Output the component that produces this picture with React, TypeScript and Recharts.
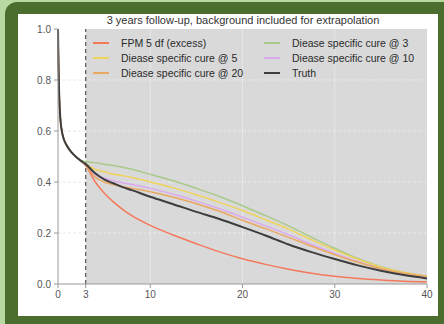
import React from "react";
import {
  LineChart,
  Line,
  XAxis,
  YAxis,
  ReferenceArea,
  ReferenceLine,
} from "recharts";

// years since diagnosis
const TIMES = [
  0, 0.05, 0.1, 0.25, 0.5, 1, 1.5, 2, 2.5, 3, 4, 5, 6, 7, 8, 10, 12.5, 15,
  17.5, 20, 22.5, 25, 27.5, 30, 32.5, 35, 37.5, 40,
];

// observed part (first 3 years) is shared by every curve
const EARLY = [1.0, 0.87, 0.78, 0.65, 0.585, 0.54, 0.515, 0.497, 0.483];

const FPM = [
  0.465, 0.402, 0.357, 0.322, 0.293, 0.268, 0.23, 0.192, 0.158, 0.126, 0.099,
  0.077, 0.058, 0.042, 0.03, 0.022, 0.016, 0.011, 0.008,
];
const CURE3 = [
  0.48, 0.476, 0.47, 0.465, 0.458, 0.45, 0.43, 0.405, 0.375, 0.343, 0.307,
  0.268, 0.228, 0.183, 0.14, 0.1, 0.068, 0.045, 0.03,
];
const CURE5 = [
  0.47, 0.45, 0.44, 0.43, 0.425, 0.418, 0.4, 0.377, 0.35, 0.32, 0.288, 0.252,
  0.215, 0.173, 0.133, 0.097, 0.066, 0.045, 0.03,
];
const CURE10 = [
  0.465, 0.43, 0.415, 0.405, 0.397, 0.39, 0.375, 0.352, 0.325, 0.295, 0.262,
  0.228, 0.193, 0.155, 0.12, 0.088, 0.06, 0.04, 0.026,
];
const CURE20 = [
  0.465, 0.42, 0.4, 0.39, 0.382, 0.375, 0.362, 0.34, 0.315, 0.285, 0.25, 0.217,
  0.183, 0.148, 0.115, 0.085, 0.06, 0.042, 0.03,
];
const TRUTH = [
  0.47, 0.435, 0.41, 0.395, 0.38, 0.368, 0.342, 0.313, 0.283, 0.255, 0.223,
  0.19, 0.155, 0.125, 0.098, 0.073, 0.052, 0.035, 0.022,
];

const X_TICKS = [0, 3, 10, 20, 30, 40];
const Y_TICKS = [0, 0.2, 0.4, 0.6, 0.8, 1.0];

const SERIES = [
  { key: "fpm", name: "FPM 5 df (excess)", color: "#f4795b", values: FPM, width: 1.5 },
  { key: "c3", name: "Diease specific cure @ 3", color: "#a9c98a", values: CURE3, width: 1.5 },
  { key: "c5", name: "Diease specific cure @ 5", color: "#efd35a", values: CURE5, width: 1.5 },
  { key: "c10", name: "Diease specific cure @ 10", color: "#dba9ee", values: CURE10, width: 1.5 },
  { key: "c20", name: "Diease specific cure @ 20", color: "#e9a860", values: CURE20, width: 1.5 },
  { key: "truth", name: "Truth", color: "#3d3d3d", values: TRUTH, width: 2 },
];

const data = TIMES.map((t, i) => {
  const row: Record<string, number> = { t };
  SERIES.forEach((s) => {
    row[s.key] = i < EARLY.length ? EARLY[i] : s.values[i - EARLY.length];
  });
  return row;
});

const font = '"Liberation Sans", Arial, sans-serif';

export default function App() {
  return (
    <div
      style={{
        position: "absolute",
        left: 0,
        top: 0,
        width: 444,
        height: 324,
        background: "#b9d9a3",
        overflow: "hidden",
      }}
    >
      <div
        style={{
          position: "absolute",
          left: 5,
          top: 2,
          width: 439,
          height: 322,
          background: "#4b6e2f",
          borderTopLeftRadius: 12,
        }}
      />
      <div
        style={{
          position: "absolute",
          left: 18,
          top: 14,
          width: 420,
          height: 302,
          background: "#ffffff",
        }}
      />
      <div
        style={{
          position: "absolute",
          left: 0,
          top: 14,
          width: 486,
          textAlign: "center",
          fontFamily: font,
          fontSize: 11,
          color: "#333",
        }}
      >
        3 years follow-up, background included for extrapolation
      </div>
      <div style={{ position: "absolute", left: 0, top: 0 }}>
        <LineChart
          width={444}
          height={324}
          data={data}
          margin={{ top: 29, right: 17, bottom: 10, left: 28 }}
        >
          <ReferenceArea x1={3} x2={40} y1={0} y2={1} fill="#d9d9d9" fillOpacity={1} stroke="none" />
          {[10, 20, 30].map((x) => (
            <ReferenceLine key={"gx" + x} x={x} stroke="#e6e6e6" strokeWidth={1} />
          ))}
          {[0.2, 0.4, 0.6, 0.8].map((y) => (
            <ReferenceLine key={"gy" + y} y={y} stroke="#e8e8e8" strokeWidth={1} strokeDasharray="3 2" />
          ))}
          <ReferenceLine x={3} stroke="#555" strokeDasharray="4 3" strokeWidth={1.2} />
          <XAxis
            dataKey="t"
            type="number"
            domain={[0, 40]}
            ticks={X_TICKS}
            stroke="#999"
            tickSize={4}
            tickMargin={3}
            height={30}
            tick={{ fill: "#555", fontSize: 10, fontFamily: font }}
          />
          <YAxis
            type="number"
            domain={[0, 1]}
            ticks={Y_TICKS}
            width={30}
            stroke="#999"
            tickSize={4}
            tickMargin={3}
            tickFormatter={(v: number) => v.toFixed(1)}
            tick={{ fill: "#555", fontSize: 10, fontFamily: font }}
          />
          {SERIES.map((s) => (
            <Line
              key={s.key}
              dataKey={s.key}
              name={s.name}
              type="monotone"
              stroke={s.color}
              strokeWidth={s.width}
              dot={false}
              isAnimationActive={false}
            />
          ))}
        </LineChart>
      </div>
      <div
        style={{
          position: "absolute",
          left: 93,
          top: 36,
          display: "grid",
          gridTemplateColumns: "171px 170px",
          rowGap: 2,
          fontFamily: font,
          fontSize: 10.5,
          color: "#2a2a2a",
        }}
      >
        {SERIES.map((s) => (
          <div key={s.key} style={{ display: "flex", alignItems: "center", height: 13 }}>
            <span
              style={{
                display: "inline-block",
                width: 16,
                height: 2,
                background: s.color,
                marginRight: 12,
              }}
            />
            {s.name}
          </div>
        ))}
      </div>
    </div>
  );
}
